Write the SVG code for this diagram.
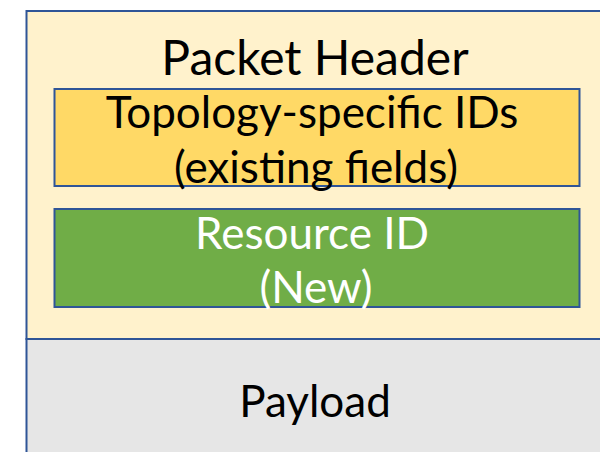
<svg xmlns="http://www.w3.org/2000/svg" width="600" height="452" viewBox="0 0 600 452">
<style>
.t{font-family:Lato,"Liberation Sans",sans-serif;font-size:44px;text-anchor:middle}
.h{font-size:48px}
.b{stroke:#2F5597;stroke-width:2}
</style>
<rect width="600" height="452" fill="#ffffff"/>
<g id="header">
<rect class="b" x="26.5" y="11" width="600" height="328" fill="#FFF2CC"/>
<text class="t h" x="315" y="75" fill="#000">Packet Header</text>
</g>
<g id="payload">
<rect class="b" x="26.5" y="339" width="600" height="130" fill="#E6E6E6"/>
<text class="t" x="315" y="417" fill="#000">Payload</text>
</g>
<g id="topology">
<rect class="b" x="54.5" y="89" width="525" height="97" fill="#FFD966"/>
<text class="t" x="312" y="128" fill="#000">Topology-specific IDs</text>
<text class="t" x="316" y="183" fill="#000">(existing fields)</text>
</g>
<g id="resource">
<rect class="b" x="54.5" y="209" width="525" height="98" fill="#70AD47"/>
<text class="t" x="312" y="249" fill="#fff">Resource ID</text>
<text class="t" x="316" y="303" fill="#fff">(New)</text>
</g>
<g id="connectors"/>
</svg>
